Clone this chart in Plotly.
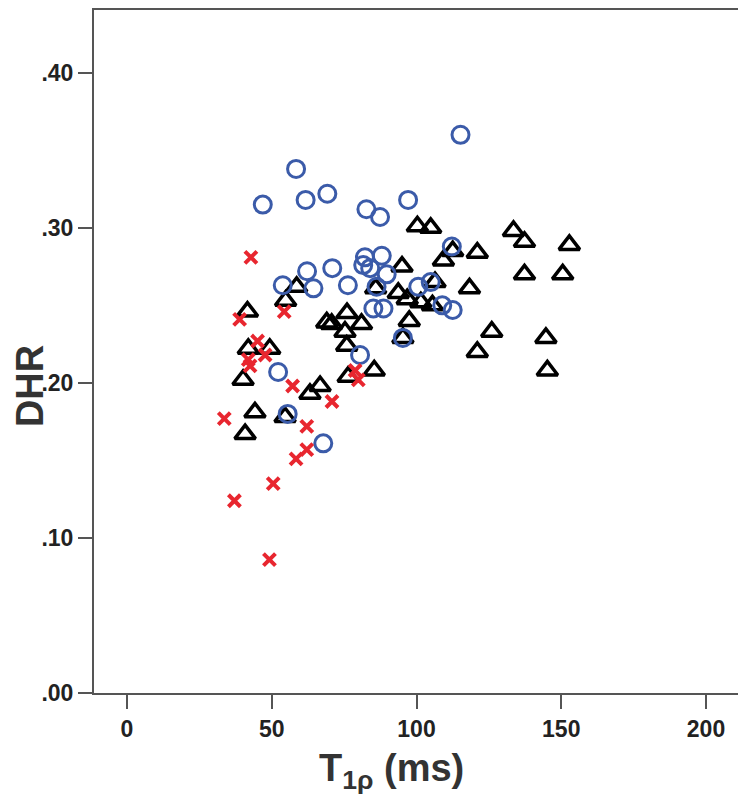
import plotly.graph_objects as go

# Blue open circles
circle_x = [115.2, 58.4, 46.9, 61.7, 69.2, 82.7, 87.4, 97.1, 112.2, 53.8, 62.2, 64.4, 70.9, 76.3,
            82.2, 88.0, 81.6, 84.0, 89.7, 86.2, 85.1, 88.6, 100.6, 104.9, 108.9, 112.5, 95.3,
            80.5, 52.2, 55.5, 67.8]
circle_y = [0.360, 0.338, 0.315, 0.318, 0.322, 0.312, 0.307, 0.318, 0.288, 0.263, 0.272, 0.261,
            0.274, 0.263, 0.281, 0.282, 0.276, 0.274, 0.270, 0.262, 0.248, 0.248, 0.262, 0.265,
            0.250, 0.247, 0.229, 0.218, 0.207, 0.180, 0.161]

# Black open triangles
tri_x = [100.3, 104.9, 112.5, 121.0, 109.3, 95.0, 106.4, 118.3, 93.7, 96.8, 101.5, 105.5, 85.9,
         58.6, 54.8, 41.6, 69.0, 70.7, 76.0, 81.0, 75.3, 97.5, 75.9, 95.3, 133.5, 137.3, 152.8,
         137.3, 150.5, 126.0, 121.0, 144.7, 145.2, 41.9, 49.3, 40.1, 44.2, 40.8, 54.6, 63.2,
         66.7, 76.4, 85.4]
tri_y = [0.301, 0.300, 0.285, 0.284, 0.279, 0.275, 0.265, 0.261, 0.258, 0.254, 0.252, 0.250,
         0.261, 0.262, 0.253, 0.246, 0.239, 0.238, 0.245, 0.238, 0.233, 0.240, 0.224, 0.229,
         0.298, 0.291, 0.289, 0.270, 0.270, 0.233, 0.220, 0.229, 0.208, 0.222, 0.222, 0.202,
         0.181, 0.167, 0.178, 0.193, 0.198, 0.204, 0.208]

# Red crosses
cross_x = [42.8, 38.9, 54.3, 45.1, 41.9, 47.7, 42.5, 57.2, 70.8, 78.8, 79.9, 33.6, 62.1, 62.1,
           58.4, 50.5, 37.1, 49.2]
cross_y = [0.281, 0.241, 0.246, 0.227, 0.215, 0.218, 0.211, 0.198, 0.188, 0.208, 0.202, 0.177,
           0.172, 0.157, 0.151, 0.135, 0.124, 0.086]

x_ticks = [0, 50, 100, 150, 200]
y_ticks = [0.0, 0.1, 0.2, 0.3, 0.4]
y_tick_labels = [".00", ".10", ".20", ".30", ".40"]

FONT = "Liberation Sans, Arial, sans-serif"

fig = go.Figure()
fig.add_trace(go.Scatter(x=tri_x, y=tri_y, mode="markers",
                         marker=dict(symbol="triangle-up-open", size=18, color="black",
                                     line=dict(width=3.5, color="black"))))
fig.add_trace(go.Scatter(x=circle_x, y=circle_y, mode="markers",
                         marker=dict(symbol="circle-open", size=17, color="#3B5BA9",
                                     line=dict(width=3, color="#3B5BA9"))))
fig.add_trace(go.Scatter(x=cross_x, y=cross_y, mode="markers",
                         marker=dict(symbol="x-thin-open", size=12, color="#E8262F",
                                     line=dict(width=4, color="#E8262F"))))

axis_common = dict(showgrid=False, zeroline=False, showline=True, linecolor="#555",
                   linewidth=2, mirror=True, ticks="outside", ticklen=14, tickwidth=2,
                   tickcolor="#555",
                   tickfont=dict(family=FONT, size=23, color="#222", weight="bold"))

fig.update_xaxes(range=[-11.4, 211.4], tickvals=x_ticks, **axis_common)
fig.update_yaxes(range=[0, 0.4405], tickvals=y_ticks, ticktext=y_tick_labels, **axis_common)

fig.add_annotation(text="<b>T<sub>1ρ</sub> (ms)</b>", xref="paper", yref="paper",
                   x=0.462, y=-0.114, xanchor="center", yanchor="middle",
                   showarrow=False, font=dict(family=FONT, size=38, color="#333"))
fig.add_annotation(text="<b>DHR</b>", xref="paper", yref="paper",
                   x=-0.099, y=0.4496, xanchor="center", yanchor="middle",
                   textangle=-90, showarrow=False,
                   font=dict(family=FONT, size=38, color="#333"))

fig.update_layout(width=738, height=792, showlegend=False,
                  plot_bgcolor="white", paper_bgcolor="white",
                  margin=dict(l=86, r=7, t=0, b=107))

fig.write_html("out.html")
